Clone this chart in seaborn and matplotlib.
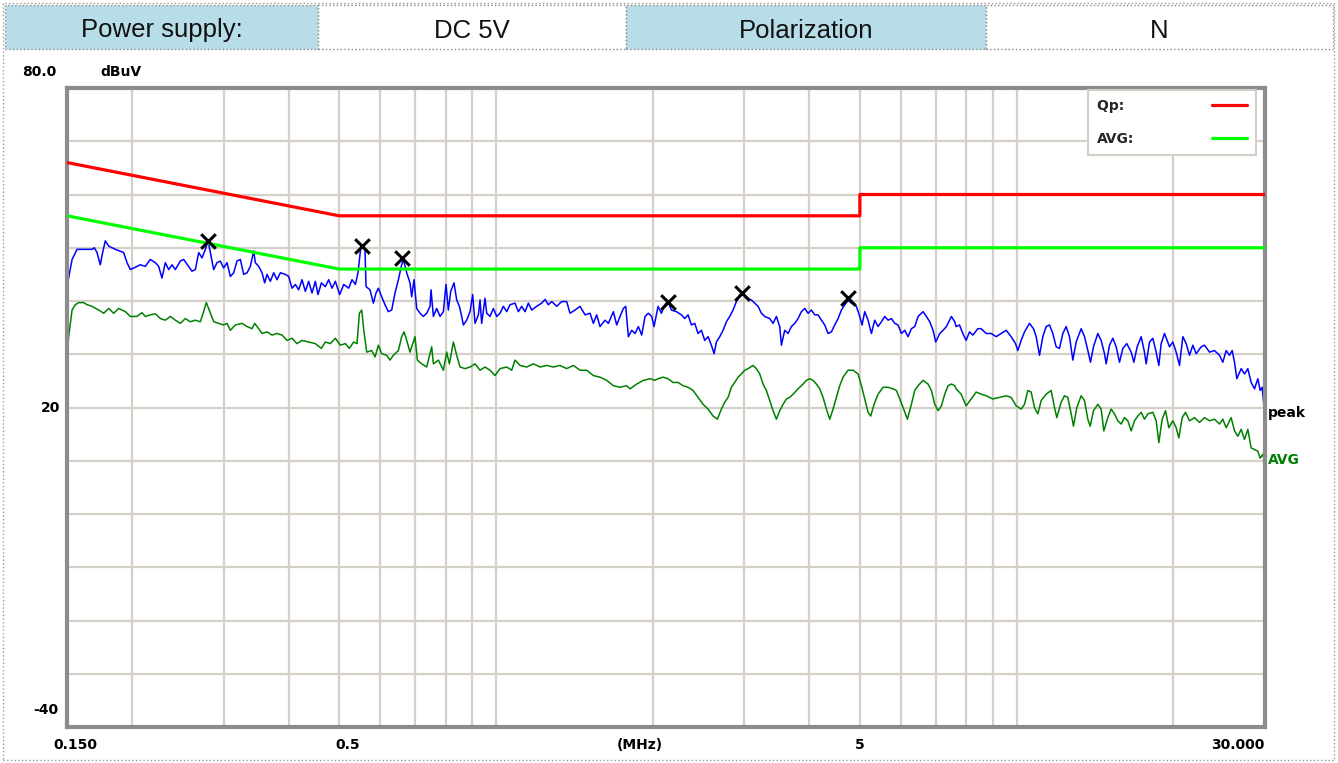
import matplotlib
matplotlib.use('Agg')
import matplotlib.pyplot as plt
import matplotlib.transforms as mtransforms
from matplotlib.patches import Rectangle
import seaborn as sns

# ---- header table ----
header_texts = ['Power supply:', 'DC 5V', 'Polarization', 'N']
header_colors = ['#b7dde8', '#ffffff', '#b7dde8', '#ffffff']

# ---- limit lines (dBuV) ----
qp_limit_mhz = [0.15, 0.5, 5.0, 5.0, 30.0]
qp_limit_dbuv = [66.0, 56.0, 56.0, 60.0, 60.0]
avg_limit_mhz = [0.15, 0.5, 5.0, 5.0, 30.0]
avg_limit_dbuv = [56.0, 46.0, 46.0, 50.0, 50.0]

# ---- peak trace ----
peak_mhz = [
    0.150, 0.1534, 0.1568, 0.1675, 0.1693, 0.1713, 0.1738, 0.1756, 0.1777, 0.1804,
    0.1858, 0.1927, 0.1956, 0.1985, 0.2015, 0.2075, 0.2121, 0.2168, 0.2217, 0.2250,
    0.2283, 0.2317, 0.2352, 0.2387, 0.2422, 0.2476, 0.2513, 0.2569, 0.2607, 0.2646,
    0.2686, 0.2725, 0.2766, 0.2799, 0.2828, 0.2870, 0.2912, 0.2955, 0.2999, 0.3044,
    0.3089, 0.3135, 0.3181, 0.3229, 0.3277, 0.3326, 0.3375, 0.3425, 0.3450, 0.3502,
    0.3554, 0.3596, 0.3633, 0.3687, 0.3742, 0.3797, 0.3854, 0.3940, 0.3998, 0.4058,
    0.4118, 0.4179, 0.4241, 0.4304, 0.4368, 0.4433, 0.4499, 0.4552, 0.4620, 0.4702,
    0.4772, 0.4843, 0.4915, 0.5010, 0.5100, 0.5214, 0.5291, 0.5370, 0.5433, 0.5490,
    0.5522, 0.5604, 0.5629, 0.5729, 0.5815, 0.5883, 0.5945, 0.6032, 0.6122, 0.6213, 0.6306,
    0.6399, 0.6495, 0.6590, 0.6639, 0.6739, 0.6838, 0.6889, 0.6960, 0.7043, 0.7148, 0.7254,
    0.7361, 0.7471, 0.7504, 0.7582, 0.7694, 0.7809, 0.7925, 0.8019, 0.8101, 0.8186, 0.8307, 0.8406, 0.8505,
    0.8594, 0.8658, 0.8786, 0.8916, 0.9022, 0.9116, 0.9252, 0.9320, 0.9388, 0.9528, 0.9599, 0.9741,
    0.9886, 1.0033, 1.0181, 1.0333, 1.0487, 1.0642, 1.0879, 1.1041, 1.1206, 1.1373,
    1.1541, 1.1713, 1.1974, 1.2242, 1.2424, 1.2608, 1.2796, 1.3082,
    1.3374, 1.3673, 1.3876, 1.4187, 1.4504, 1.4828, 1.5160,
    1.5385, 1.5614, 1.5845, 1.6201, 1.6441, 1.6808, 1.7057, 1.7311, 1.7568, 1.7750,
    1.7961, 1.8228, 1.8498, 1.8774, 1.9052, 1.9335, 1.9621, 1.9913, 2.0122, 2.0420,
    2.048, 2.0786, 2.1094, 2.1407, 2.1726, 2.2212, 2.2707, 2.3045, 2.3387,
    2.3735, 2.4089, 2.4445, 2.4808, 2.5178, 2.5551, 2.5931, 2.6239, 2.6510, 2.6904, 2.7305,
    2.7709, 2.8121, 2.8536, 2.8963, 2.9392, 2.9741, 3.0269, 3.0949, 3.1408,
    3.1874, 3.2349, 3.2827, 3.3563, 3.4061, 3.4567, 3.5077, 3.5339, 3.5865, 3.6397,
    3.6937, 3.7488, 3.8042, 3.8607, 3.9183, 3.9763, 4.0354, 4.0952, 4.1562, 4.2178,
    4.2805, 4.3443, 4.4085, 4.4740, 4.5408, 4.6080, 4.6764, 4.7458, 4.8164, 4.9243,
    4.9972, 5.0488, 5.1088, 5.1847, 5.2621, 5.3400, 5.4194, 5.4997, 5.5816, 5.6644,
    5.7485, 5.8341, 5.9204, 6.0083, 6.0980, 6.1883, 6.2802, 6.3734, 6.4682, 6.6131,
    6.7109, 6.8108, 6.9114, 6.9934, 7.1186, 7.2245, 7.3311, 7.4956, 7.6069,
    7.654, 7.768, 7.883, 8.000, 8.120, 8.240, 8.424, 8.549, 8.741,
    8.936, 9.136, 9.340, 9.549, 9.762, 9.952, 10.055, 10.205,
    10.356, 10.587, 10.776, 10.905, 11.066, 11.230, 11.397, 11.567, 11.738,
    11.912, 12.090, 12.269, 12.451, 12.637, 12.824, 13.014, 13.305, 13.503, 13.704,
    13.866, 14.050, 14.322, 14.536, 14.752, 14.861, 15.082, 15.305, 15.533, 15.764,
    15.998, 16.282, 16.598, 16.796, 17.045, 17.349, 17.605, 17.737, 18.001, 18.268,
    18.539, 18.759, 18.954, 19.234, 19.666, 19.957, 20.253, 20.554, 20.860, 21.170,
    21.484, 21.803, 22.126, 22.622, 22.958, 23.471, 23.995, 24.532,
    24.897, 25.267, 25.641, 25.947, 26.216, 26.487, 27.000, 27.398, 27.807, 28.220, 28.641,
    29.066, 29.366, 29.628, 29.934,
]
peak_dbuv = [
    42.7, 47.8, 49.7, 49.7, 50.0, 49.1, 46.8, 49.1, 51.3, 50.3,
    49.7, 49.1, 47.2, 45.9, 46.2, 46.8, 46.5, 47.8, 47.2, 46.5,
    44.3, 47.2, 45.9, 46.8, 45.9, 47.5, 47.8, 46.5, 45.6, 45.9,
    49.1, 48.1, 49.7, 51.3, 49.1, 45.9, 47.2, 47.5, 46.2, 47.2,
    44.6, 45.3, 47.5, 47.8, 45.0, 45.3, 46.5, 49.4, 47.2, 46.5,
    45.3, 43.4, 45.0, 43.7, 45.3, 44.0, 45.3, 45.0, 44.6, 42.4,
    43.1, 42.1, 44.0, 41.8, 43.7, 41.5, 43.7, 41.2, 43.4, 42.7,
    44.0, 42.4, 43.7, 41.2, 43.1, 42.4, 44.0, 43.1, 45.3, 49.4,
    50.3, 49.7, 42.7, 42.1, 39.6, 41.5, 42.4, 40.8, 39.3, 38.0, 38.3,
    41.5, 44.0, 46.8, 47.8, 45.3, 43.4, 40.8, 44.0, 38.6, 37.7, 37.1,
    37.7, 39.0, 42.1, 37.1, 38.6, 37.1, 38.0, 43.1, 38.3, 41.8, 43.4, 40.2, 39.0,
    37.1, 35.5, 36.4, 38.0, 41.2, 35.8, 37.4, 40.2, 35.8, 40.5, 37.7, 37.1,
    38.6, 37.1, 37.7, 39.0, 38.0, 39.3, 39.6, 38.0, 39.0, 38.0,
    39.6, 38.3, 39.0, 39.6, 40.3, 39.3, 39.9, 39.0,
    39.9, 39.9, 37.7, 38.3, 39.0, 37.4, 37.7,
    35.8, 37.4, 35.2, 36.4, 35.8, 38.0, 35.5, 37.1, 38.6, 39.0,
    33.3, 34.5, 33.9, 35.2, 33.6, 37.1, 37.7, 37.1, 35.2, 38.3,
    39.0, 37.7, 39.3, 39.9, 38.3, 38.0, 37.4, 36.7, 37.4,
    35.5, 35.8, 33.9, 34.5, 32.6, 33.3, 31.7, 30.1, 32.3, 33.3, 34.5,
    36.1, 37.1, 38.3, 39.9, 41.2, 41.5, 40.5, 40.2, 39.6,
    39.0, 37.7, 37.1, 36.7, 35.8, 37.1, 35.2, 31.7, 34.5, 33.9,
    35.2, 35.8, 36.7, 38.0, 38.6, 37.7, 38.3, 37.4, 37.4, 36.4,
    35.5, 33.9, 34.2, 35.5, 36.7, 38.3, 39.3, 40.1, 39.6, 39.0,
    37.1, 35.5, 38.0, 36.4, 33.9, 36.4, 35.2, 36.1, 37.1, 36.4,
    36.7, 35.8, 35.5, 33.9, 34.5, 33.3, 34.8, 35.2, 37.1, 38.0,
    37.1, 36.1, 34.5, 32.3, 33.9, 34.5, 35.2, 37.1, 36.1,
    35.2, 35.5, 33.9, 32.6, 34.2, 33.6, 34.8, 34.8, 33.9,
    33.9, 33.3, 33.9, 34.5, 33.3, 32.0, 30.7, 32.6,
    34.2, 35.8, 34.8, 33.3, 29.8, 33.3, 35.2, 35.5, 33.9,
    31.4, 31.1, 33.9, 35.2, 33.3, 28.9, 32.3, 34.8, 33.3, 30.7,
    28.5, 31.4, 33.9, 32.6, 30.1, 28.2, 31.7, 33.0, 31.4, 28.5,
    31.1, 32.0, 30.4, 28.5, 31.4, 33.3, 30.4, 28.2, 32.3, 33.0,
    30.4, 27.9, 32.0, 33.9, 31.4, 32.3, 30.4, 27.9, 33.3, 32.0,
    29.8, 31.7, 30.1, 31.4, 31.7, 30.4, 30.7, 29.8,
    28.5, 30.7, 29.8, 30.7, 28.5, 25.4, 27.3, 26.3, 27.3, 24.7, 23.5,
    25.4, 23.2, 23.8, 19.1,
]

# ---- average trace ----
avg_mhz = [
    0.150, 0.1511, 0.1534, 0.1556, 0.1579, 0.1615, 0.1639, 0.1675, 0.1726, 0.1764,
    0.1804, 0.1844, 0.1885, 0.1942, 0.1985, 0.2044, 0.2090, 0.2121, 0.2168, 0.2217,
    0.2267, 0.2317, 0.2369, 0.2422, 0.2476, 0.2532, 0.2588, 0.2646, 0.2705, 0.2745,
    0.2778, 0.2828, 0.2870, 0.2934, 0.2999, 0.3044, 0.3089, 0.3158, 0.3253, 0.3326,
    0.3400, 0.3440, 0.3502, 0.3554, 0.3633, 0.3714, 0.3797, 0.3882, 0.3969, 0.4058,
    0.4148, 0.4241, 0.4368, 0.4499, 0.4620, 0.4702, 0.4808, 0.4915, 0.5025, 0.5137,
    0.5229, 0.5330, 0.5409, 0.5466,
    0.5522, 0.5579, 0.5646, 0.5772, 0.5858, 0.5945, 0.6032, 0.6168, 0.6259, 0.6352,
    0.6495, 0.6590, 0.6659, 0.6739, 0.6838, 0.6940, 0.6991, 0.7064, 0.7200, 0.7361,
    0.7471, 0.7526, 0.7582, 0.7752, 0.7925, 0.8042, 0.8138, 0.8283, 0.8406, 0.8531,
    0.8722, 0.8916, 0.9116, 0.9320, 0.9528, 0.9741, 0.9959, 1.0181, 1.0487, 1.0721,
    1.0879, 1.1124, 1.1456, 1.1799, 1.2153, 1.2516, 1.2891, 1.3276, 1.3673, 1.4083,
    1.4504, 1.4938, 1.5385, 1.5845, 1.6321, 1.6808, 1.7311, 1.7829, 1.8095, 1.8635,
    1.9193, 1.9767, 2.0209,
    2.048, 2.094, 2.1407, 2.1886, 2.2375, 2.2875, 2.3387, 2.3911, 2.4445, 2.4993,
    2.5551, 2.6120, 2.6628, 2.7103, 2.7505, 2.7915, 2.8327, 2.8748, 2.9177, 2.9609,
    3.0049, 3.0495, 3.1177, 3.1642, 3.2110, 3.2588, 3.3069, 3.3563, 3.4061, 3.4567,
    3.5077, 3.5600, 3.6129, 3.6668, 3.7210, 3.8042, 3.8895, 3.9471, 4.0058, 4.0649,
    4.1255, 4.1868, 4.2492, 4.3122, 4.3764, 4.4410, 4.5074, 4.5741, 4.6422, 4.7458,
    4.8520, 4.9605, 5.0344, 5.1088, 5.1847, 5.2462, 5.3241, 5.4194, 5.5404, 5.6644,
    5.7910, 5.8773, 5.9641, 6.0532, 6.1699, 6.2802, 6.3734, 6.4682, 6.6131, 6.7609,
    6.8608, 6.9627, 7.0666, 7.1712, 7.2778, 7.3857, 7.4956, 7.6069,
    7.654, 7.826, 8.000, 8.180, 8.363, 8.549, 8.741, 9.003, 9.271, 9.549,
    9.762, 9.981, 10.205, 10.356, 10.510, 10.665, 10.824, 10.985, 11.148, 11.397,
    11.652, 11.826, 11.948, 12.179, 12.359, 12.544, 12.730, 12.862, 13.052, 13.305,
    13.503, 13.704, 13.846, 14.050, 14.322, 14.536, 14.709, 14.971, 15.192, 15.418,
    15.648, 15.881, 16.116, 16.356, 16.598, 16.845, 17.095, 17.349, 17.605, 17.868,
    18.268, 18.539, 18.759, 19.038, 19.321, 19.607, 19.957, 20.253, 20.495, 20.799,
    21.107, 21.484, 21.965, 22.455, 22.958, 23.471, 23.995, 24.532, 24.897, 25.267,
    25.830, 26.216, 26.605, 27.000, 27.398, 27.807, 28.220, 28.641, 29.066, 29.366,
    29.715, 29.934,
]
avg_dbuv = [
    28.5, 33.3, 38.3, 39.3, 39.7, 39.7, 39.3, 39.0, 38.3, 37.7,
    38.6, 37.7, 38.6, 38.0, 37.1, 37.1, 37.8, 37.1, 37.4, 37.6,
    36.7, 36.4, 37.1, 36.4, 35.8, 36.7, 36.1, 36.4, 36.1, 38.0,
    39.7, 37.7, 36.1, 35.8, 35.5, 35.8, 34.5, 35.5, 35.8, 35.2,
    34.8, 35.8, 34.8, 33.9, 34.2, 33.6, 33.9, 33.6, 32.6, 33.0,
    32.0, 32.6, 32.3, 32.0, 31.1, 32.3, 32.0, 33.0, 31.7, 32.0,
    31.1, 32.3, 32.0, 37.7,
    38.3, 34.2, 30.4, 30.7, 29.5, 31.7, 30.1, 29.8, 28.9, 29.8,
    30.7, 33.3, 34.2, 32.6, 30.4, 32.3, 33.3, 28.9, 28.2, 27.6,
    30.1, 31.4, 28.2, 28.9, 27.0, 30.4, 28.2, 32.3, 29.8, 27.6,
    27.3, 27.6, 28.2, 27.0, 27.6, 27.0, 26.0, 27.3, 27.6, 27.0,
    28.9, 27.9, 27.6, 28.2, 27.6, 27.9, 27.6, 27.9, 27.3, 27.9,
    27.0, 27.0, 26.0, 25.7, 25.1, 24.1, 23.8, 24.1, 23.5, 24.4,
    25.1, 25.4, 25.1,
    25.4, 25.7, 25.4, 24.7, 24.7, 24.1, 23.8, 23.2, 21.9, 20.6,
    19.7, 18.4, 17.8, 19.7, 21.0, 21.9, 23.8, 24.7, 25.7, 26.3,
    27.0, 27.3, 27.9, 27.3, 26.3, 24.4, 23.2, 21.3, 19.4, 17.8,
    19.4, 20.6, 21.6, 21.9, 22.5, 23.5, 24.4, 25.1, 25.4, 25.1,
    24.4, 23.5, 21.9, 19.7, 17.8, 19.7, 21.9, 24.1, 25.7, 27.0,
    27.0, 26.3, 24.1, 21.6, 19.1, 18.4, 20.6, 22.5, 23.8, 23.8,
    23.5, 23.2, 21.6, 20.0, 17.8, 20.6, 23.2, 24.1, 25.1, 24.4,
    23.2, 20.6, 19.4, 20.3, 22.5, 24.1, 24.4, 24.1,
    23.5, 22.5, 20.3, 21.6, 22.9, 22.5, 22.2, 21.6, 21.9, 22.2,
    21.9, 20.3, 19.7, 20.6, 23.2, 22.9, 20.0, 18.8, 21.3, 22.5,
    23.2, 20.0, 18.1, 21.0, 22.2, 21.9, 18.8, 16.5, 20.0, 22.2,
    21.3, 17.8, 16.5, 19.4, 20.6, 19.7, 15.6, 18.1, 19.7, 18.8,
    17.5, 16.9, 18.1, 17.5, 15.6, 17.5, 18.4, 19.1, 17.8, 18.8,
    19.1, 17.5, 13.4, 17.8, 19.4, 16.2, 17.5, 16.2, 14.3, 18.1,
    19.1, 17.5, 18.1, 17.2, 18.1, 17.5, 17.8, 16.9, 17.8, 16.2,
    18.1, 15.6, 14.6, 15.9, 14.0, 15.9, 12.4, 12.1, 11.8, 10.5,
    11.2, 9.9,
]

# ---- peak markers ----
marker_mhz = [0.280, 0.553, 0.659, 2.141, 2.974, 4.746]
marker_dbuv = [51.3, 50.3, 48.1, 39.9, 41.5, 40.5]

grid_mhz = [0.2, 0.3, 0.4, 0.5, 0.6, 0.7, 0.8, 0.9, 1, 2, 3, 4, 5, 6, 7, 8, 9, 10, 20]

W, H = 1338, 763
sns.set_style('white')
plt.rcParams['font.family'] = ['DejaVu Sans']

fig = plt.figure(figsize=(W / 100, H / 100), dpi=100)
ax = fig.add_axes([67 / W, 1 - 727 / H, 1198 / W, 639 / H])

# header cells
cell_edges = [5, 318, 626, 986, 1333]
for i, (txt, col) in enumerate(zip(header_texts, header_colors)):
    x0, x1 = cell_edges[i], cell_edges[i + 1]
    fig.add_artist(Rectangle((x0 / W, 1 - 49 / H), (x1 - x0) / W, 44 / H,
                             transform=fig.transFigure, facecolor=col,
                             edgecolor='#8a8a8a', linestyle=':', linewidth=1))
    fig.text((x0 + x1) / 2 / W, 1 - 28 / H, txt, ha='center', va='center_baseline',
             fontsize=18.5, family='Liberation Sans', color='#111111')
fig.add_artist(Rectangle((3 / W, 3 / H), 1331 / W, 757 / H, transform=fig.transFigure,
                         fill=False, edgecolor='#9a9a9a', linestyle=':', linewidth=1))

# traces
sns.lineplot(x=qp_limit_mhz, y=qp_limit_dbuv, color='#ff0000', linewidth=2.3,
             sort=False, estimator=None, ax=ax, label='Qp:  ', zorder=3)
sns.lineplot(x=avg_limit_mhz, y=avg_limit_dbuv, color='#00ff00', linewidth=2.3,
             sort=False, estimator=None, ax=ax, label='AVG:', zorder=3)
sns.lineplot(x=avg_mhz, y=avg_dbuv, color='#008000', linewidth=1.1,
             sort=False, estimator=None, ax=ax, legend=False, zorder=2)
sns.lineplot(x=peak_mhz, y=peak_dbuv, color='#0000ff', linewidth=1.1,
             sort=False, estimator=None, ax=ax, legend=False, zorder=2)
sns.scatterplot(x=marker_mhz, y=marker_dbuv, marker='x', s=110, color='black',
                linewidth=2.2, ax=ax, legend=False, zorder=5)

ax.set_xscale('log')
ax.set_xlim(0.15, 30)
ax.set_ylim(-40, 80)
ax.set_xticks(grid_mhz)
ax.set_xticks([], minor=True)
ax.set_yticks(range(-40, 81, 10))
ax.tick_params(length=0, labelbottom=False, labelleft=False)
ax.grid(True, color='#d4d0c8', linewidth=1.6)
ax.set_axisbelow(True)
for sp in ax.spines.values():
    sp.set_color('#8c8c8c')
    sp.set_linewidth(3)

# axis texts
bold = dict(fontweight='bold', fontsize=10, color='black')
fig.text(22 / W, 1 - 72 / H, '80.0', va='center', **bold)
fig.text(100 / W, 1 - 72 / H, 'dBuV', va='center', **bold)
ytr = mtransforms.blended_transform_factory(ax.transAxes, ax.transData)
ax.text(-0.006, 20, '20', transform=ytr, ha='right', va='center', **bold)
ax.text(-0.007, -36.8, '-40', transform=ytr, ha='right', va='center', **bold)
xtr = mtransforms.blended_transform_factory(ax.transData, ax.transAxes)
ax.text(0.156, -0.028, '0.150', transform=xtr, ha='center', va='center', **bold)
ax.text(0.518, -0.028, '0.5', transform=xtr, ha='center', va='center', **bold)
ax.text(1.89, -0.028, '(MHz)', transform=xtr, ha='center', va='center', **bold)
ax.text(5.0, -0.028, '5', transform=xtr, ha='center', va='center', **bold)
ax.text(30.0, -0.028, '30.000', transform=xtr, ha='right', va='center', **bold)
ax.text(1.0025, 19.0, 'peak', transform=ytr, ha='left', va='center', **bold)
ax.text(1.0025, 10.2, 'AVG', transform=ytr, ha='left', va='center',
        fontweight='bold', fontsize=10, color='#008000')

handles, labels = ax.get_legend_handles_labels()
leg = ax.legend(handles, labels, loc='upper right', bbox_to_anchor=(1256 / W, 1 - 90 / H),
                bbox_transform=fig.transFigure, borderaxespad=0, markerfirst=False,
                frameon=True, fancybox=False, edgecolor='#d4d0c8', framealpha=1,
                prop={'weight': 'bold', 'size': 10}, handlelength=2.5,
                handletextpad=5.6, labelspacing=1.35, borderpad=0.65)
leg.get_frame().set_linewidth(1.5)

fig.savefig('out.png', dpi=100)
